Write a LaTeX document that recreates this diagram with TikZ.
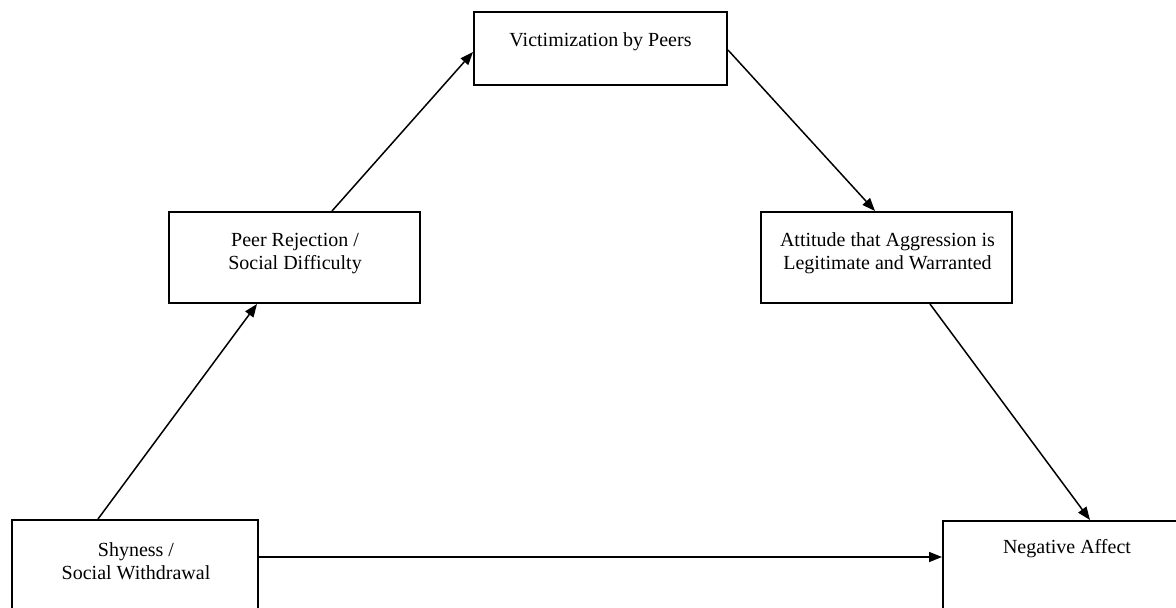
\documentclass[tikz,border=0pt]{standalone}
\usepackage{fontspec}
\setmainfont{Liberation Serif}
\usetikzlibrary{arrows.meta}
\begin{document}
\begin{tikzpicture}[x=1pt,y=-1pt,
  box/.style={draw=black, line width=2pt, rectangle, inner sep=0pt},
  lbl/.style={align=center, font=\fontsize{20}{23}\selectfont, inner sep=0pt},
  arr/.style={line width=1.5pt, -{Triangle[length=13pt,width=10pt]}}]
\clip (0,0) rectangle (1176,608);
\fill[white] (0,0) rectangle (1176,608);
% boxes
\node[box, minimum width=253pt, minimum height=73pt] (vic) at (600.5,48.5) {};
\node[box, minimum width=251pt, minimum height=91pt] (peer) at (294.5,257.5) {};
\node[box, minimum width=251pt, minimum height=91pt] (att) at (886.5,257.5) {};
\node[box, minimum width=246pt, minimum height=92pt] (shy) at (135,566) {};
\node[box, minimum width=248pt, minimum height=92pt] (na) at (1067,567) {};
% labels
\node[lbl] (vict) at (600.5,42) {Victimization by Peers};
\node[lbl] (peert) at (295,253.5) {Peer Rejection /\\Social Difficulty};
\node[lbl] (attt) at (887.5,253.5) {Attitude that Aggression is\\Legitimate and Warranted};
\node[lbl] (shyt) at (136,561) {Shyness /\\Social Withdrawal};
\node[lbl] (nat) at (1067,549) {Negative Affect};
% connectors
\draw[arr] ([xshift=-37pt]shy.north) -- ([xshift=-37.5pt]peer.south);
\draw[arr] ([xshift=37.5pt]peer.north) -- ([yshift=-3.5pt]vic.west);
\draw[arr] ([yshift=-1.5pt]vic.east) -- ([xshift=-11.5pt]att.north);
\draw[arr] ([xshift=43.5pt]att.south) -- ([xshift=23pt]na.north);
\draw[arr] ([yshift=9pt]shy.east) -- ([yshift=10pt]na.west);
\end{tikzpicture}
\end{document}
